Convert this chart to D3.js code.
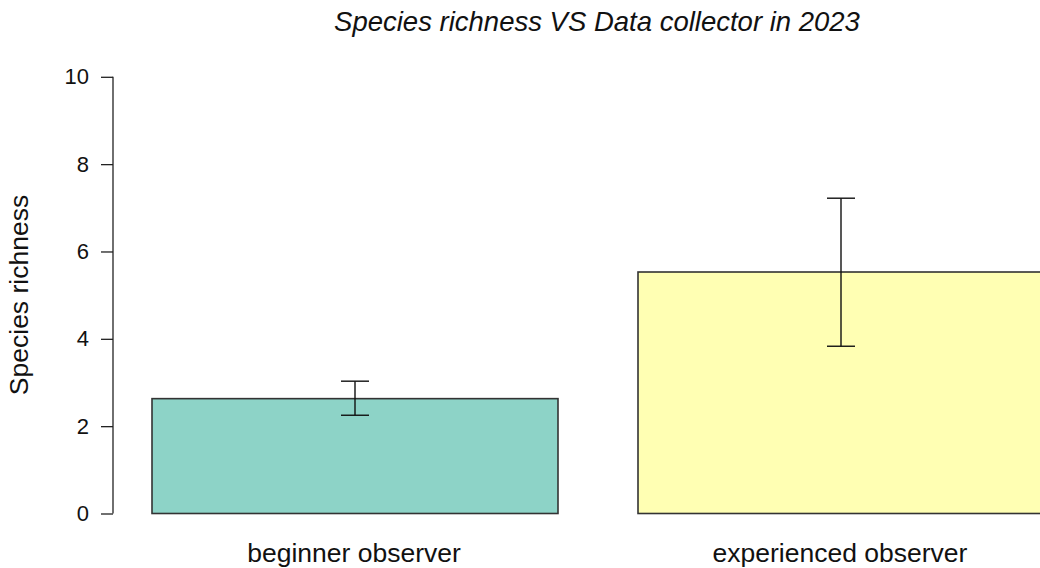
<!DOCTYPE html>
<html>
<head>
<meta charset="utf-8">
<script src="https://cdn.jsdelivr.net/npm/d3@7"></script>
<style>
  html, body { margin: 0; padding: 0; background: #fff; overflow: hidden; }
  svg { display: block; font-family: "Liberation Sans", Arial, sans-serif; }
</style>
</head>
<body>
<svg id="chart" width="1040" height="568"></svg>
<script>
const categories = ["beginner observer", "experienced observer"];
const meanValues = [2.63, 5.53];
const lowerValues = [2.25, 3.83];
const upperValues = [3.03, 7.22];
const barColors = ["#8DD3C7", "#FFFFB3"];
const yTicks = [0, 2, 4, 6, 8, 10];
const titleText = "Species richness VS Data collector in 2023";
const yLabelText = "Species richness";

const svg = d3.select("#chart");

const y = d3.scaleLinear().domain([0, 10]).range([513.5, 76.8]);
const x = d3.scaleBand()
  .domain(categories)
  .range([152, 1044])
  .paddingInner(80 / 486)
  .paddingOuter(0);

// bars
svg.append("g").selectAll("rect")
  .data(categories)
  .join("rect")
  .attr("x", d => x(d))
  .attr("width", x.bandwidth())
  .attr("y", (d, i) => y(meanValues[i]))
  .attr("height", (d, i) => y(0) - y(meanValues[i]))
  .attr("fill", (d, i) => barColors[i])
  .attr("stroke", "#333")
  .attr("stroke-width", 1.6);

// error bars
const cap = 14;
const eg = svg.append("g").attr("stroke", "#111").attr("stroke-width", 1.4).attr("fill", "none");
categories.forEach((c, i) => {
  const cx = x(c) + x.bandwidth() / 2;
  eg.append("line").attr("x1", cx).attr("x2", cx).attr("y1", y(lowerValues[i])).attr("y2", y(upperValues[i]));
  eg.append("line").attr("x1", cx - cap).attr("x2", cx + cap).attr("y1", y(lowerValues[i])).attr("y2", y(lowerValues[i]));
  eg.append("line").attr("x1", cx - cap).attr("x2", cx + cap).attr("y1", y(upperValues[i])).attr("y2", y(upperValues[i]));
});

// y axis
const yAxis = d3.axisLeft(y).tickValues(yTicks).tickSize(12).tickPadding(12).tickFormat(d3.format("d"));
const ya = svg.append("g").attr("transform", "translate(113,0)").call(yAxis);
ya.select(".domain").attr("d", `M0,${y(10)}V${y(0)}`).attr("stroke", "#222").attr("stroke-width", 1.3);
ya.selectAll(".tick line").attr("stroke", "#222").attr("stroke-width", 1.3);
ya.selectAll(".tick text").attr("font-size", 22).attr("fill", "#111")
  .attr("font-family", '"Liberation Sans", Arial, sans-serif');

// x labels
svg.append("g").selectAll("text")
  .data(categories)
  .join("text")
  .attr("x", d => x(d) + x.bandwidth() / 2 - 1)
  .attr("y", 562)
  .attr("text-anchor", "middle")
  .attr("font-size", 26.5)
  .attr("fill", "#111")
  .text(d => d);

// y label
svg.append("text")
  .attr("transform", "translate(28,295) rotate(-90)")
  .attr("text-anchor", "middle")
  .attr("font-size", 26.5)
  .attr("fill", "#111")
  .text(yLabelText);

// title
svg.append("text")
  .attr("x", 597)
  .attr("y", 31)
  .attr("text-anchor", "middle")
  .attr("font-size", 27.5)
  .attr("font-style", "italic")
  .attr("fill", "#111")
  .text(titleText);
</script>
</body>
</html>
